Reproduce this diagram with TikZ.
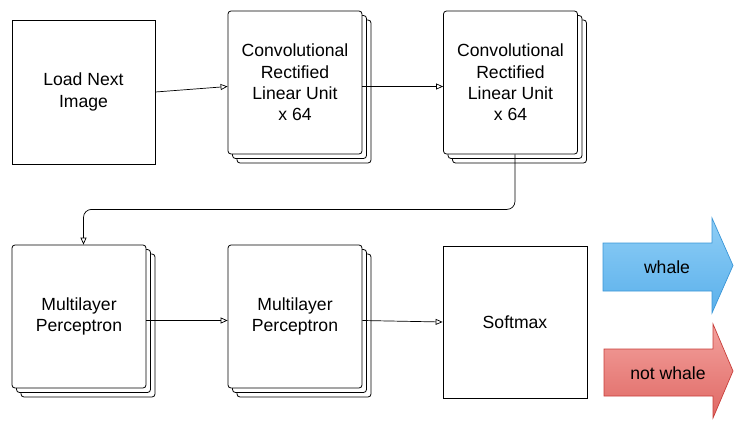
\documentclass[tikz,border=0pt]{standalone}
\usepackage{fontspec}
\setmainfont{Liberation Sans}
\usetikzlibrary{arrows.meta, shadows, calc}
\definecolor{whaletop}{RGB}{143,206,246}
\definecolor{whalebot}{RGB}{90,176,235}
\definecolor{whaleline}{RGB}{58,150,215}
\definecolor{nottop}{RGB}{243,162,158}
\definecolor{notbot}{RGB}{224,104,100}
\definecolor{notline}{RGB}{200,62,58}
\tikzset{
  stage/.style={draw, line width=0.8pt, fill=white, inner sep=0pt, align=center},
  layer/.style={stage, rounded corners=3pt, minimum width=134pt, minimum height=143pt,
    every copy shadow/.style={draw=black, fill=white, line width=0.8pt},
    copy shadow={shadow xshift=9pt, shadow yshift=-9pt},
    copy shadow={shadow xshift=4.5pt, shadow yshift=-4.5pt}},
  flow/.style={line width=0.7pt, -{Triangle[open, length=7pt, width=6pt]}}
}

\begin{document}
\begin{tikzpicture}[x=1pt, y=-1pt, font=\fontsize{17.6}{21.3}\selectfont]
        \useasboundingbox (0,0) rectangle (745,431);

        % top row
        \node[stage, minimum width=143pt, minimum height=144pt] (load) at (83.5,92) {Load Next\\Image};
        \node[layer] (conv1) at (295,82.5) {Convolutional\\Rectified\\Linear Unit\\x 64};
        \node[layer] (conv2) at (510.5,82.5) {Convolutional\\Rectified\\Linear Unit\\x 64};

        % bottom row
        \node[layer] (mlp1) at (79,316.5) {Multilayer\\Perceptron};
        \node[layer] (mlp2) at (295,316.5) {Multilayer\\Perceptron};
        \node[stage, minimum width=144pt, minimum height=152pt] (softmax) at (515,322) {Softmax};

        % connectors
        \draw[flow] (load.east) -- ([yshift=-4pt]conv1.west);
        \draw[flow] ([yshift=-4pt]conv1.east) -- ([yshift=-4pt]conv2.west);
        \draw[flow, rounded corners=8pt] ([xshift=4.5pt]conv2.south) -- ++(0,55) -| ([xshift=4.5pt]mlp1.north);
        \draw[flow] ([yshift=-4pt]mlp1.east) -- ([yshift=-4pt]mlp2.west);
        \draw[flow] ([yshift=-4pt]mlp2.east) -- (softmax.west);

        % output arrows
        \shade[top color=whaletop, bottom color=whalebot, draw=whaleline, line width=0.7pt]
          (603,243) -- (712,243) -- (712,218) -- (733,265.5) -- (712,313) -- (712,291) -- (603,291) -- cycle;
        \node (whale) at (667,267) {whale};
        \shade[top color=nottop, bottom color=notbot, draw=notline, line width=0.7pt]
          (604,349) -- (713,349) -- (713,324) -- (733,371) -- (713,418) -- (713,396) -- (604,396) -- cycle;
        \node (notwhale) at (668,373) {not whale};
      \end{tikzpicture}
\end{document}
